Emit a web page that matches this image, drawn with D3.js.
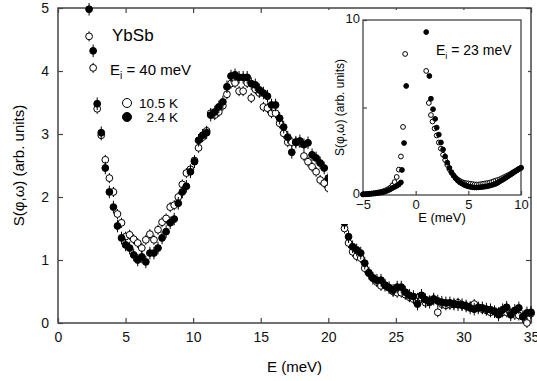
<!DOCTYPE html>
<html>
<head>
<meta charset="utf-8">
<script src="https://cdn.jsdelivr.net/npm/d3@7"></script>
<style>
  body { margin: 0; background: #fff; }
  svg { font-family: "Liberation Sans", Arial, sans-serif; }
</style>
</head>
<body>
<div id="chart"></div>
<script>
// main panel: E grid (meV), shared by both temperatures
const energy = [
  2.3, 2.6, 2.9, 3.2, 3.5, 3.8, 4.1, 4.4, 4.7, 5.0,
  5.3, 5.6, 5.9, 6.2, 6.5, 6.8, 7.1, 7.4, 7.7, 8.0,
  8.3, 8.6, 8.9, 9.2, 9.5, 9.8, 10.1, 10.4, 10.7, 11.0,
  11.3, 11.6, 11.9, 12.2, 12.5, 12.8, 13.1, 13.4, 13.7, 14.0,
  14.3, 14.6, 14.9, 15.2, 15.5, 15.8, 16.1, 16.4, 16.7, 17.0,
  17.3, 17.6, 17.9, 18.2, 18.5, 18.8, 19.1, 19.4, 19.7, 20.0,
  20.3, 20.6, 20.9, 21.2, 21.5, 21.8, 22.1, 22.4, 22.7, 23.0,
  23.3, 23.6, 23.9, 24.2, 24.5, 24.8, 25.1, 25.4, 25.7, 26.0,
  26.3, 26.6, 26.9, 27.2, 27.5, 27.8, 28.1, 28.4, 28.7, 29.0,
  29.3, 29.6, 29.9, 30.2, 30.5, 30.8, 31.1, 31.4, 31.7, 32.0,
  32.3, 32.6, 32.9, 33.2, 33.5, 33.8, 34.1, 34.4, 34.7, 35.0
];
// 10.5 K (open circles)
const s105K = [
  4.55, 4.05, 3.40, 2.98, 2.59, 2.30, 2.08, 1.73, 1.59, 1.37,
  1.40, 1.33, 1.27, 1.19, 1.32, 1.41, 1.32, 1.48, 1.60, 1.66,
  1.84, 1.87, 2.00, 2.20, 2.38, 2.44, 2.58, 2.78, 2.95, 3.05,
  3.33, 3.30, 3.35, 3.45, 3.63, 3.80, 3.81, 3.68, 3.68, 3.81,
  3.57, 3.71, 3.65, 3.43, 3.41, 3.33, 3.33, 3.17, 3.01, 2.87,
  2.87, 2.87, 2.86, 2.65, 2.56, 2.48, 2.40, 2.27, 2.22, 2.14,
  2.05, 1.83, 1.72, 1.50, 1.27, 1.13, 1.06, 1.03, 0.87, 0.80,
  0.72, 0.65, 0.59, 0.60, 0.56, 0.50, 0.48, 0.48, 0.45, 0.41,
  0.38, 0.40, 0.40, 0.32, 0.36, 0.38, 0.17, 0.30, 0.28, 0.29,
  0.30, 0.32, 0.28, 0.27, 0.26, 0.30, 0.25, 0.22, 0.20, 0.17,
  0.19, 0.17, 0.17, 0.17, 0.15, 0.13, 0.12, 0.10, 0.00, 0.15
];
// 2.4 K (filled circles)
const s24K = [
  4.98, 4.32, 3.48, 3.02, 2.46, 2.08, 1.84, 1.54, 1.35, 1.24,
  1.19, 1.08, 1.00, 1.05, 0.97, 1.11, 1.11, 1.19, 1.35, 1.45,
  1.59, 1.65, 1.90, 2.08, 2.17, 2.40, 2.56, 2.90, 2.98, 3.02,
  3.30, 3.35, 3.43, 3.51, 3.75, 3.92, 3.94, 3.90, 3.90, 3.90,
  3.80, 3.78, 3.70, 3.65, 3.60, 3.46, 3.46, 3.25, 3.11, 2.95,
  2.71, 2.87, 2.89, 2.83, 2.86, 2.67, 2.62, 2.54, 2.46, 2.30,
  2.13, 2.00, 1.83, 1.59, 1.37, 1.21, 1.16, 1.11, 0.95, 0.79,
  0.71, 0.68, 0.68, 0.60, 0.56, 0.52, 0.57, 0.57, 0.49, 0.44,
  0.42, 0.30, 0.44, 0.37, 0.33, 0.38, 0.35, 0.33, 0.32, 0.32,
  0.30, 0.29, 0.29, 0.27, 0.24, 0.22, 0.24, 0.24, 0.22, 0.21,
  0.18, 0.13, 0.21, 0.25, 0.13, 0.20, 0.24, 0.10, 0.16, 0.17
];
const xTicks = [0, 5, 10, 15, 20, 25, 30, 35];
const yTicks = [0, 1, 2, 3, 4, 5];

// inset (Ei = 23 meV)
const insetE24K = [
  -5.0, -4.8, -4.6, -4.4, -4.2, -4.0, -3.8, -3.6, -3.4, -3.2,
  -3.0, -2.8, -2.6, -2.4, -2.2, -2.0, -1.8, -1.6, -1.4, -1.3, -1.1, -0.9,
  1.0, 1.3, 1.45, 1.65, 1.85, 2.0, 2.2, 2.4, 2.6, 2.8,
  3.0, 3.2, 3.4, 3.6, 3.8, 4.0, 4.2, 4.4, 4.6, 4.8,
  5.0, 5.2, 5.4, 5.6, 5.8, 6.0, 6.2, 6.4, 6.6, 6.8,
  7.0, 7.2, 7.4, 7.6, 7.8, 8.0, 8.2, 8.4, 8.6, 8.8,
  9.0, 9.2, 9.4, 9.6, 9.8, 10.0
];
const insetS24K = [
  0.03, 0.04, 0.05, 0.06, 0.07, 0.08, 0.09, 0.11, 0.13, 0.15,
  0.18, 0.22, 0.27, 0.33, 0.40, 0.46, 0.52, 0.60, 0.72, 1.43, 2.97, 6.23,
  9.31, 6.80, 5.50, 4.90, 4.35, 3.85, 3.45, 3.00, 2.60, 2.20,
  1.85, 1.55, 1.30, 1.10, 0.95, 0.82, 0.72, 0.65, 0.58, 0.53,
  0.49, 0.46, 0.44, 0.43, 0.43, 0.44, 0.45, 0.46, 0.48, 0.50,
  0.53, 0.56, 0.60, 0.64, 0.70, 0.78, 0.85, 0.92, 1.00, 1.08,
  1.16, 1.24, 1.32, 1.40, 1.48, 1.55
];
const insetE105K = [
  -5.0, -4.8, -4.6, -4.4, -4.2, -4.0, -3.8, -3.6, -3.4, -3.2,
  -3.0, -2.8, -2.6, -2.4, -2.2, -2.0, -1.8, -1.6, -1.4, -1.2, -1.0,
  1.0, 1.25, 1.45, 1.6, 1.8, 2.0, 2.2, 2.4, 2.6, 2.8,
  3.0, 3.2, 3.4, 3.6, 3.8, 4.0, 4.2, 4.4, 4.6, 4.8,
  5.0, 5.2, 5.4, 5.6, 5.8, 6.0, 6.2, 6.4, 6.6, 6.8,
  7.0, 7.2, 7.4, 7.6, 7.8, 8.0, 8.2, 8.4, 8.6, 8.8,
  9.0, 9.2, 9.4, 9.6, 9.8, 10.0
];
const insetS105K = [
  0.04, 0.05, 0.06, 0.07, 0.08, 0.10, 0.12, 0.14, 0.16, 0.19,
  0.23, 0.28, 0.34, 0.42, 0.55, 0.74, 1.03, 1.45, 2.20, 3.89, 8.06,
  7.09, 5.26, 4.57, 4.20, 3.80, 3.40, 3.00, 2.65, 2.30, 2.00,
  1.72, 1.48, 1.28, 1.12, 0.98, 0.88, 0.80, 0.74, 0.70, 0.67,
  0.66, 0.64, 0.62, 0.60, 0.60, 0.60, 0.62, 0.64, 0.66, 0.68,
  0.70, 0.74, 0.78, 0.82, 0.86, 0.90, 0.96, 1.02, 1.08, 1.14,
  1.20, 1.28, 1.35, 1.42, 1.50, 1.56
];
const insetXTicks = [-5, 0, 5, 10];
const insetYTicks = [0, 5, 10];

const W = 537, H = 381;
const axisColor = "#444";

const svg = d3.select("#chart").append("svg")
  .attr("width", W)
  .attr("height", H);

const x = d3.scaleLinear().domain([0, 35]).range([58, 531]);
const y = d3.scaleLinear().domain([0, 5]).range([323, 8]);

// axes with inward ticks
function styleAxis(g) {
  g.select(".domain").remove();
  g.selectAll(".tick line").attr("stroke", axisColor).attr("stroke-width", 1.2);
  g.selectAll(".tick text").attr("fill", "#111");
}

svg.append("g")
  .attr("transform", `translate(0,${y(0)})`)
  .call(d3.axisBottom(x).tickValues(xTicks).tickSizeInner(-5).tickSizeOuter(0).tickPadding(9).tickFormat(d3.format("d")))
  .call(styleAxis)
  .style("font-size", "14px");
svg.append("g")
  .attr("transform", `translate(0,${y(5)})`)
  .call(d3.axisTop(x).tickValues(xTicks).tickSizeInner(-5).tickSizeOuter(0).tickFormat(""))
  .call(styleAxis);
svg.append("g")
  .attr("transform", `translate(${x(0)},0)`)
  .call(d3.axisLeft(y).tickValues(yTicks).tickSizeInner(-5).tickSizeOuter(0).tickPadding(9).tickFormat(d3.format("d")))
  .call(styleAxis)
  .style("font-size", "14px");
svg.append("g")
  .attr("transform", `translate(${x(35)},0)`)
  .call(d3.axisRight(y).tickValues(yTicks).tickSizeInner(-5).tickSizeOuter(0).tickFormat(""))
  .call(styleAxis);

svg.append("rect")
  .attr("x", x(0)).attr("y", y(5))
  .attr("width", x(35) - x(0)).attr("height", y(0) - y(5))
  .attr("fill", "none").attr("stroke", axisColor).attr("stroke-width", 1.5);

svg.append("text")
  .attr("x", (x(0) + x(35)) / 2).attr("y", 372)
  .attr("text-anchor", "middle").style("font-size", "15px")
  .text("E (meV)");
svg.append("text")
  .attr("transform", `translate(24,${(y(0) + y(5)) / 2}) rotate(-90)`)
  .attr("text-anchor", "middle").style("font-size", "15px")
  .text("S(\u03c6,\u03c9) (arb. units)");

// scatter with optional vertical error bars
function drawSeries(g, ys, es, sx, sy, r, filled, err) {
  const pts = es.map((e, i) => ({ e: e, s: ys[i] }));
  if (err > 0) {
    g.append("g").selectAll("line")
      .data(pts)
      .join("line")
      .attr("x1", d => sx(d.e)).attr("x2", d => sx(d.e))
      .attr("y1", d => sy(d.s - err)).attr("y2", d => sy(d.s + err))
      .attr("stroke", "#000").attr("stroke-width", 1);
  }
  g.append("g").selectAll("circle")
    .data(pts)
    .join("circle")
    .attr("cx", d => sx(d.e))
    .attr("cy", d => sy(d.s))
    .attr("r", r)
    .attr("fill", filled ? "#000" : "#fff")
    .attr("stroke", "#000")
    .attr("stroke-width", 1);
}

const main = svg.append("g");
drawSeries(main, s105K, energy, x, y, 3.4, false, 0.08);
drawSeries(main, s24K, energy, x, y, 3.4, true, 0.1);

// labels and legend
svg.append("text").attr("x", 112).attr("y", 41).style("font-size", "17px").text("YbSb");
const ei = svg.append("text").attr("x", 110).attr("y", 75).style("font-size", "15px");
ei.append("tspan").text("E");
ei.append("tspan").attr("dy", 4).style("font-size", "10px").text("i");
ei.append("tspan").attr("dy", -4).text(" = 40 meV");

const legend = [
  { label: "10.5 K", filled: false, ty: 103 },
  { label: "2.4 K", filled: true, ty: 117 }
];
legend.forEach(l => {
  svg.append("circle").attr("cx", 127).attr("cy", l.ty)
    .attr("r", 4.5).attr("fill", l.filled ? "#000" : "#fff")
    .attr("stroke", "#000").attr("stroke-width", 1);
  svg.append("text").attr("x", 178).attr("y", l.ty + 5)
    .attr("text-anchor", "end").style("font-size", "13.5px").text(l.label);
});

// inset
const ix = d3.scaleLinear().domain([-5, 10]).range([363, 521]);
const iy = d3.scaleLinear().domain([0, 10]).range([195, 20]);

svg.append("rect")
  .attr("x", 328).attr("y", 10).attr("width", 200).attr("height", 214)
  .attr("fill", "#fff");

svg.append("g")
  .attr("transform", `translate(0,${iy(0)})`)
  .call(d3.axisBottom(ix).tickValues(insetXTicks).tickSizeInner(-4).tickSizeOuter(0).tickPadding(5))
  .call(styleAxis)
  .style("font-size", "13px");
svg.append("g")
  .attr("transform", `translate(${ix(-5)},0)`)
  .call(d3.axisLeft(iy).tickValues(insetYTicks).tickSizeInner(-4).tickSizeOuter(0).tickPadding(3)
    .tickFormat(d => d === 5 ? "" : d))
  .call(styleAxis)
  .style("font-size", "13px")
  .call(g => g.selectAll(".tick text").attr("dy", "0.2em"));

svg.append("rect")
  .attr("x", ix(-5)).attr("y", iy(10))
  .attr("width", ix(10) - ix(-5)).attr("height", iy(0) - iy(10))
  .attr("fill", "none").attr("stroke", axisColor).attr("stroke-width", 1.3);

svg.append("text")
  .attr("x", (ix(-5) + ix(10)) / 2).attr("y", 222)
  .attr("text-anchor", "middle").style("font-size", "13px")
  .text("E (meV)");
svg.append("text")
  .attr("transform", `translate(344,${(iy(0) + iy(10)) / 2}) rotate(-90)`)
  .attr("text-anchor", "middle").style("font-size", "12px")
  .text("S(\u03c6,\u03c9) (arb. units)");

const ie = svg.append("text").attr("x", 436).attr("y", 55).style("font-size", "14px");
ie.append("tspan").text("E");
ie.append("tspan").attr("dy", 4).style("font-size", "9px").text("i");
ie.append("tspan").attr("dy", -4).text(" = 23 meV");

const inset = svg.append("g");
drawSeries(inset, insetS105K, insetE105K, ix, iy, 2.4, false, 0);
drawSeries(inset, insetS24K, insetE24K, ix, iy, 2.4, true, 0);
</script>
</body>
</html>
